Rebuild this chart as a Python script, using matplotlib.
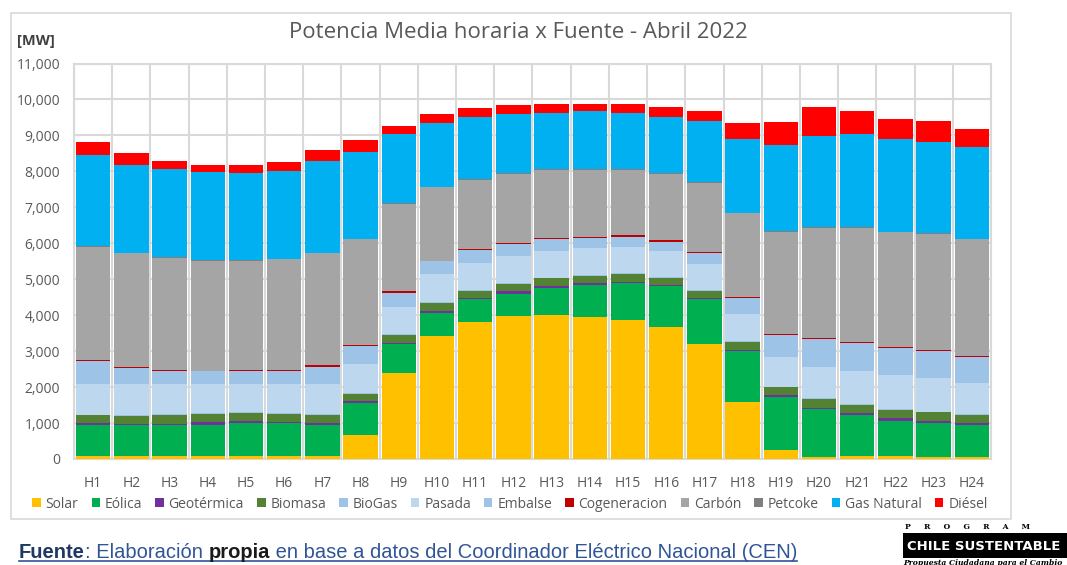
import matplotlib
matplotlib.use("Agg")
import matplotlib.pyplot as plt
import numpy as np
from matplotlib.patches import Rectangle, Patch
from matplotlib.lines import Line2D

# ---------------- data ----------------
hours = [f"H{i}" for i in range(1, 25)]
sources = ["Solar", "Eólica", "Geotérmica", "Biomasa", "BioGas", "Pasada", "Embalse",
           "Cogeneracion", "Carbón", "Petcoke", "Gas Natural", "Diésel"]
colors = ["#FFC000", "#00B050", "#7030A0", "#548235", "#9DC3E6", "#BDD7EE", "#9DC3E6",
          "#C00000", "#A5A5A5", "#7F7F7F", "#00B0F0", "#FF0000"]

solar = [70, 70, 70, 70, 75, 75, 70, 660, 2395, 3415, 3815, 3985,
         4010, 3945, 3865, 3685, 3205, 1590, 260, 60, 70, 70, 50, 50]
eolica = [885, 870, 870, 885, 930, 930, 885, 900, 790, 650, 625, 610,
          745, 900, 1020, 1125, 1235, 1400, 1465, 1335, 1155, 1000, 955, 895]
geotermica = [45, 35, 45, 65, 65, 20, 45, 40, 55, 50, 45, 65,
              55, 40, 35, 35, 45, 55, 50, 35, 45, 70, 45, 50]
biomasa = [220, 230, 240, 245, 220, 240, 225, 210, 215, 220, 185, 215,
           215, 205, 225, 195, 195, 205, 220, 240, 245, 235, 250, 230]
biogas = [15, 15, 15, 15, 15, 15, 15, 20, 20, 20, 20, 20,
          20, 20, 20, 20, 20, 20, 20, 20, 20, 20, 20, 20]
pasada = [850, 860, 840, 800, 775, 800, 840, 815, 750, 780, 770, 750,
          740, 750, 730, 715, 715, 760, 815, 880, 905, 935, 920, 880]
embalse = [650, 455, 360, 360, 370, 370, 490, 490, 400, 360, 350, 325,
           325, 275, 290, 270, 315, 455, 625, 775, 775, 770, 770, 725]
cogeneracion = [30, 10, 35, 10, 15, 15, 40, 30, 45, 25, 40, 45,
                25, 30, 35, 35, 35, 25, 35, 10, 35, 25, 35, 25]
carbon = [3135, 3175, 3115, 3055, 3040, 3085, 3110, 2945, 2420, 2035, 1910, 1910,
          1900, 1870, 1815, 1855, 1920, 2325, 2835, 3080, 3185, 3180, 3215, 3230]
petcoke = [20, 20, 20, 20, 20, 20, 20, 20, 20, 20, 20, 20,
           20, 20, 20, 20, 20, 20, 20, 20, 20, 20, 20, 20]
gas_natural = [2530, 2440, 2445, 2450, 2420, 2450, 2555, 2415, 1920, 1775, 1740, 1650,
               1575, 1610, 1575, 1565, 1695, 2035, 2375, 2535, 2575, 2565, 2545, 2545]
diesel = [370, 320, 240, 210, 230, 230, 295, 325, 230, 235, 230, 240,
          240, 215, 250, 265, 275, 460, 640, 790, 645, 580, 565, 515]

series = [solar, eolica, geotermica, biomasa, biogas, pasada, embalse,
          cogeneracion, carbon, petcoke, gas_natural, diesel]

# ---------------- figure ----------------
W, H = 1067, 565
fig = plt.figure(figsize=(W / 100, H / 100), dpi=100)
FONT = "Open Sans"
TXT = "#595959"
GRID = "#D9D9D9"

def fx(px):
    return px / W

def fy(py):
    return 1 - py / H

# chart frame
fig.patches.append(Rectangle((fx(11), fy(519)), fx(1011) - fx(11), fy(13) - fy(519),
                             transform=fig.transFigure, facecolor="none",
                             edgecolor=GRID, lw=1.2, zorder=-5))

ax = fig.add_axes([fx(74), fy(459), fx(991) - fx(74), fy(63.5) - fy(459)])
ax.set_facecolor("white")

x = np.arange(len(hours))
bottom = np.zeros(len(hours))
for name, vals, c in zip(sources, series, colors):
    v = np.array(vals, dtype=float)
    ax.bar(x, v, bottom=bottom, width=0.9, color=c, edgecolor="none", zorder=3, label=name)
    bottom += v

ax.set_xlim(-0.5, len(hours) - 0.5)
ax.set_ylim(0, 11000)
ax.set_yticks(np.arange(0, 11001, 1000))
ax.set_yticklabels([f"{v:,}" for v in range(0, 11001, 1000)])
ax.set_xticks(x)
ax.set_xticklabels(hours)
ax.yaxis.grid(True, color=GRID, lw=1.5, zorder=0)
ax.set_axisbelow(True)
for b in np.arange(-0.5, len(hours), 1.0):
    ax.axvline(b, color=GRID, lw=1.5, zorder=1)
for s in ax.spines.values():
    s.set_color(GRID)
    s.set_linewidth(1.5)
ax.tick_params(length=0, labelsize=10, labelcolor=TXT)
ax.tick_params(axis="y", pad=10)
ax.tick_params(axis="x", pad=12)
for lab in ax.get_xticklabels() + ax.get_yticklabels():
    lab.set_fontfamily(FONT)

# title and unit
fig.text(fx(518), fy(32), "Potencia Media horaria x Fuente - Abril 2022", ha="center",
         va="center", fontsize=16, color=TXT, fontfamily=FONT)
fig.text(fx(17), fy(41), "[MW]", ha="left", va="center", fontsize=10.5,
         fontweight="bold", color="#404040", fontfamily=FONT)

# legend
handles = [Patch(facecolor=c, edgecolor="none", label=n) for n, c in zip(sources, colors)]
leg = fig.legend(handles=handles, loc="center", bbox_to_anchor=(fx(510), fy(504)),
                 ncol=12, frameon=False, handlelength=0.6, handleheight=0.6,
                 handletextpad=0.35, columnspacing=0.95,
                 prop={"family": FONT, "size": 10})
for t in leg.get_texts():
    t.set_color(TXT)

# footer with mixed styles
fig.canvas.draw()
renderer = fig.canvas.get_renderer()
pieces = [("Fuente", "bold", "#1F3864"), (": Elaboración ", "normal", "#2F5597"),
          ("propia", "bold", "#1a1a1a"),
          (" en base a datos del Coordinador Eléctrico Nacional (CEN)", "normal", "#2F5597")]
cur = 19
ybase = fy(558)
for txt, wt, col in pieces:
    t = fig.text(fx(cur), ybase, txt, ha="left", va="baseline", fontsize=14.5,
                 fontweight=wt, color=col, fontfamily="Liberation Sans")
    bb = t.get_window_extent(renderer=renderer)
    cur += bb.width
fig.lines.append(Line2D([fx(19), fx(cur)], [fy(561), fy(561)], transform=fig.transFigure,
                        color="#2F5597", lw=1.2))

# logo
fig.text(fx(905), fy(527), "     ".join(list("PROGRAM")), ha="left", va="center",
         fontsize=5.5, fontweight="bold", color="black", fontfamily="DejaVu Serif")
fig.patches.append(Rectangle((fx(903), fy(558)), fx(1067) - fx(903), fy(533) - fy(558),
                             transform=fig.transFigure, facecolor="black",
                             edgecolor="none"))
fig.text(fx(984), fy(546), "CHILE SUSTENTABLE", ha="center", va="center", fontsize=9.5,
         fontweight="bold", color="white", fontfamily="DejaVu Sans")
fig.text(fx(903), fy(563), "Propuesta Ciudadana para el Cambio", ha="left", va="center",
         fontsize=5.5, fontstyle="italic", fontweight="bold", color="black",
         fontfamily="DejaVu Serif")

fig.savefig("out.png", dpi=100)
